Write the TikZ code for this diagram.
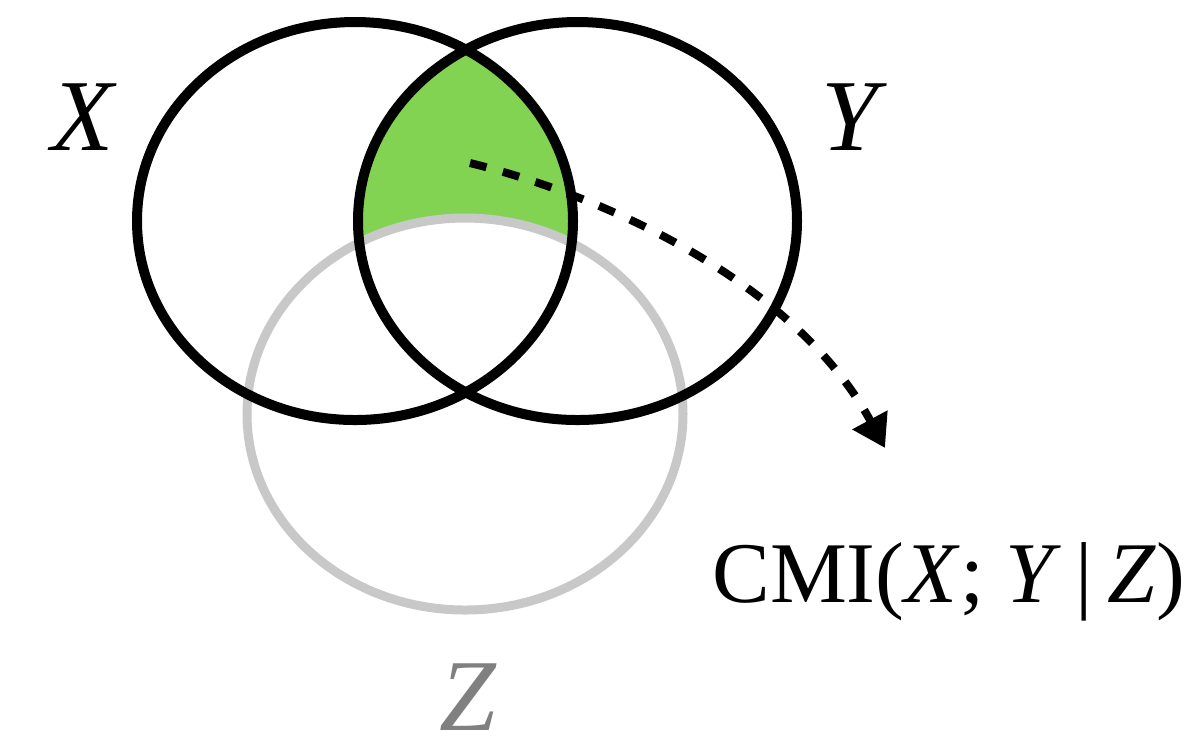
\documentclass[tikz,border=0pt]{standalone}
\usepackage{fontspec}
\setmainfont{Liberation Serif}
\usetikzlibrary{arrows.meta,positioning}
\definecolor{cmigreen}{RGB}{130,211,82}
\definecolor{zgray}{RGB}{200,200,200}
\definecolor{zlabel}{RGB}{128,128,128}

\begin{document}
\begin{tikzpicture}[
    setline/.style={draw=black, line width=0.1cm},
    zline/.style={draw=zgray, line width=0.09cm},
    lbl/.style={font=\fontsize{29}{33}\selectfont, anchor=base},
    arr/.style={-{Triangle[length=0.32cm, width=0.38cm]}, line width=0.08cm, dash pattern=on 0.17cm off 0.17cm}
]
\useasboundingbox (0,0) rectangle (12.04,-7.49);
% Region shaded: X and Y, outside Z
\begin{scope}
    \clip (3.55,-2.21) ellipse [x radius=2.18, y radius=1.99];
    \clip (5.775,-2.21) ellipse [x radius=2.195, y radius=1.99];
    \fill[cmigreen] (0,0) rectangle (12.04,-7.49);
    \fill[white] (4.65,-4.14) ellipse [x radius=2.18, y radius=1.96];
\end{scope}

% Sets
\draw[zline] (4.65,-4.14) ellipse [x radius=2.18, y radius=1.96];
\draw[setline] (3.55,-2.21) ellipse [x radius=2.18, y radius=1.99];
\draw[setline] (5.775,-2.21) ellipse [x radius=2.195, y radius=1.99];

\node[lbl] (x) at (0.84,-1.50) {\textit{X}};
\node[lbl] (y) at (8.54,-1.50) {\textit{Y}};
\node[lbl, text=zlabel, inner sep=0pt] (z) at (4.68,-7.30) {\textit{Z}};
\node[font=\fontsize{24.6}{29}\selectfont, anchor=base west] (cmi) at (7.0,-6.02) {CMI(\textit{X}; \textit{Y}\,|\,\textit{Z})};

% Arrow to the label
\coordinate (cmistart) at (4.70,-1.63);
\coordinate (cmiend) at (8.85,-4.48);
\draw[arr] (cmistart) .. controls (6.2,-2.0) and (8.0,-2.9) .. (cmiend);
\end{tikzpicture}
\end{document}
